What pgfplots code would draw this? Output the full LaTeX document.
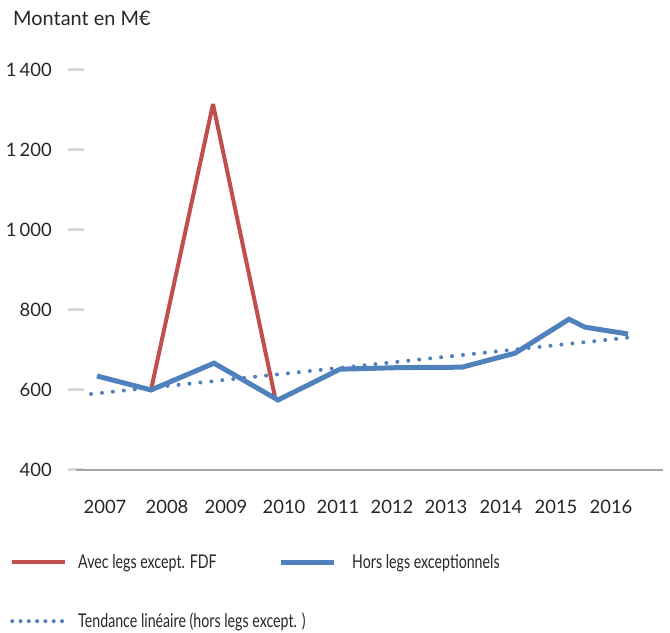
\documentclass[border=0pt]{standalone}
\usepackage{fontspec}
\setmainfont{Lato}
\newfontfamily\legfont[FakeStretch=0.75]{Lato}
\usepackage{pgfplots}
\pgfplotsset{compat=1.18}
\definecolor{xred}{HTML}{C0504D}
\definecolor{xblue}{HTML}{4F81BD}
\definecolor{tickgray}{HTML}{D9D9D9}
\definecolor{axgray}{HTML}{A6A6A6}
\begin{document}
\begin{tikzpicture}[x=1bp,y=1bp]
\useasboundingbox (0,0) rectangle (670,633);
\node[anchor=base west, inner sep=0pt, font=\fontsize{20}{23}\selectfont, text=black!85] at (13,607) {Montant en M€};
\begin{axis}[
  at={(76bp,163bp)}, anchor=south west,
  scale only axis, width=587bp, height=400bp,
  xmin=76, xmax=663, ymin=400, ymax=1400,
  axis x line*=bottom, axis y line*=left,
  axis line style={-},
  x axis line style={draw=axgray, line width=2.7bp},
  y axis line style={draw=none},
  xtick={105,167,226,284,338,392,446,501,556,611},
  xticklabels={2007,2008,2009,2010,2011,2012,2013,2014,2015,2016},
  ytick={400,600,800,1000,1200,1400},
  xtick style={draw=none},
  ytick style={draw=tickgray, line width=3bp},
  tick align=center,
  major tick length=16bp,
  /pgf/number format/1000 sep={\,},
  /pgf/number format/assume math mode=true,
  ticklabel style={font=\fontsize{18.5}{21}\selectfont, text=black!85},
  xticklabel style={inner sep=0pt, anchor=north, yshift=-22bp},
  yticklabel style={inner sep=0pt, anchor=east, xshift=-16bp},
  clip=false,
  legend columns=2,
  legend cell align=left,
  legend style={at={(axis description cs:-0.1124,-0.211)}, anchor=north west,
    draw=none, fill=none, inner sep=0pt, row sep=43bp,
    nodes={inner sep=0pt, font=\legfont\fontsize{19}{22}\selectfont, text=black!85},
    /tikz/every odd column/.append style={column sep=11bp},
    /tikz/every even column/.append style={column sep=14bp}},
  legend image code/.code={\draw[#1] (0bp,0bp) -- (53bp,0bp);},
]
\addplot[xred, line width=4bp, line join=bevel] coordinates {
  (151,600) (213,1315) (275,582)
};
\addlegendentry{\makebox[186bp][l]{Avec legs except. FDF}}
\addplot[xblue, line width=5bp] coordinates {
  (97,635) (151,600) (214,667) (278,575) (340,652) (400,656) (462,657)
  (515,692) (569,777) (585,757) (628,740)
};
\addlegendentry{\hspace{5bp}Hors legs exceptionnels}
\addplot[xblue, line width=4bp, line cap=round, dash pattern=on 0bp off 11bp,
  legend image code/.code={\draw[xblue, line width=4bp, line cap=round, dash pattern=on 0bp off 8.3bp] (0bp,0bp) -- (50bp,0bp);}] coordinates {
  (91,590) (632,732)
};
\addlegendentry{\makebox[186bp][l]{Tendance linéaire (hors legs except. )}}
\end{axis}
\end{tikzpicture}
\end{document}
